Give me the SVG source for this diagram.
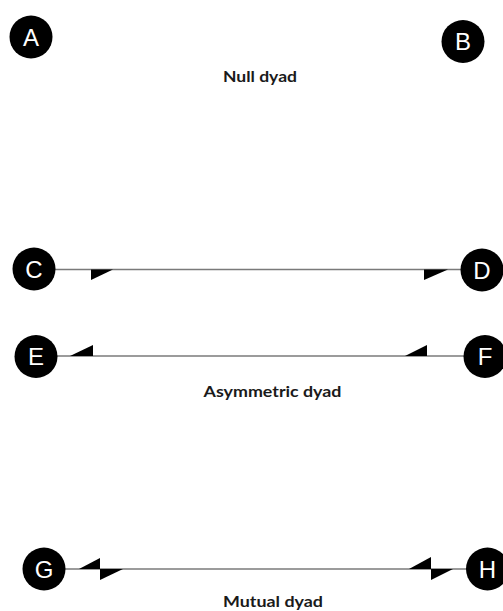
<svg xmlns="http://www.w3.org/2000/svg" width="503" height="611" viewBox="0 0 503 611">
<style>
.node circle{fill:#000}
.node text{fill:#fff;font-family:"Liberation Sans",Arial,sans-serif;font-size:24px;text-anchor:middle}
.edge{stroke:#7a7a7a;stroke-width:1.5;fill:none}
.head{fill:#000;stroke:none}
.cap{font-family:Lato,"Liberation Sans",sans-serif;font-weight:bold;font-size:16px;fill:#1a1a1a;text-anchor:middle}
</style>
<rect width="503" height="611" fill="#fff"/>
<g id="connectors">
<line class="edge" x1="34" y1="269.5" x2="482" y2="269.5"/>
<polygon class="head" points="91,269.5 113,269.5 91,280"/>
<polygon class="head" points="424,269.5 448,269.5 424,280"/>
<line class="edge" x1="36" y1="356" x2="485" y2="356"/>
<polygon class="head" points="70,356 93,356 93,345"/>
<polygon class="head" points="405,356 427,356 427,345"/>
<line class="edge" x1="44" y1="569" x2="487" y2="569"/>
<polygon class="head" points="79,569 100,569 100,558"/>
<polygon class="head" points="100,569 123,569 100,580"/>
<polygon class="head" points="409,569 431,569 431,557"/>
<polygon class="head" points="431,569 453,569 431,580"/>
</g>
<g id="A" class="node"><circle cx="31" cy="37" r="21.5"/><text x="31" y="45.5">A</text></g>
<g id="B" class="node"><circle cx="463" cy="41.5" r="21.5"/><text x="463" y="50">B</text></g>
<g id="C" class="node"><circle cx="34" cy="269" r="21.5"/><text x="34" y="277.5">C</text></g>
<g id="D" class="node"><circle cx="482" cy="270" r="21.5"/><text x="482" y="278.5">D</text></g>
<g id="E" class="node"><circle cx="36" cy="356.5" r="21.5"/><text x="36" y="365">E</text></g>
<g id="F" class="node"><circle cx="485" cy="356.5" r="21.5"/><text x="485" y="365">F</text></g>
<g id="G" class="node"><circle cx="44" cy="569" r="21.5"/><text x="44" y="577.5">G</text></g>
<g id="H" class="node"><circle cx="487.5" cy="569" r="21.5"/><text x="487.5" y="577.5">H</text></g>
<text class="cap" x="260" y="82" textLength="74" lengthAdjust="spacingAndGlyphs">Null dyad</text>
<text class="cap" x="272.5" y="396.5" textLength="138" lengthAdjust="spacingAndGlyphs">Asymmetric dyad</text>
<text class="cap" x="273" y="606.5" textLength="100" lengthAdjust="spacingAndGlyphs">Mutual dyad</text>
</svg>
